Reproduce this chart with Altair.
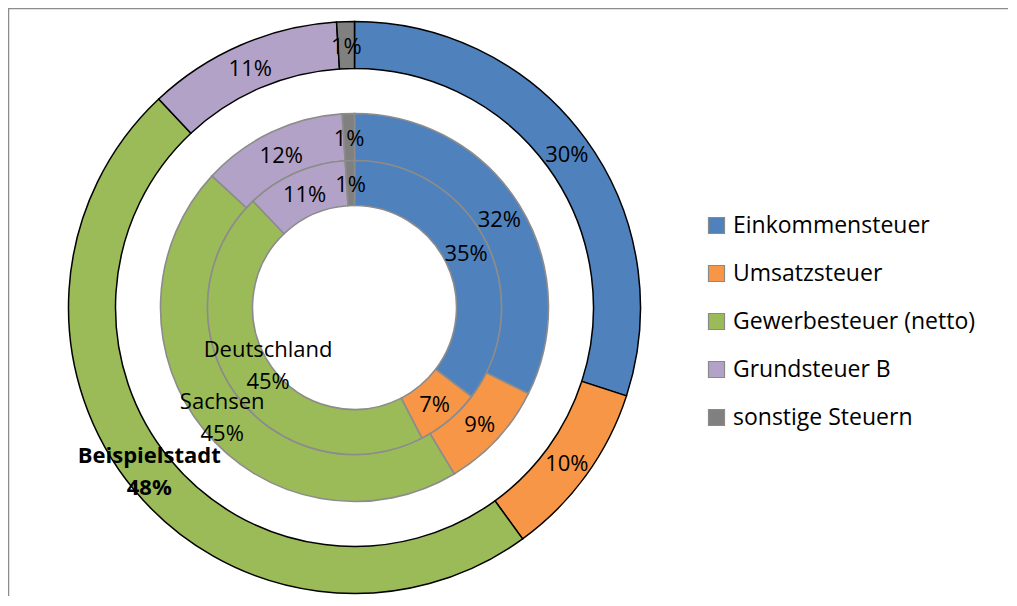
import math
import altair as alt
import pandas as pd

categories = ["Einkommensteuer", "Umsatzsteuer", "Gewerbesteuer (netto)", "Grundsteuer B", "sonstige Steuern"]
colors = ["#4F81BD", "#F79646", "#9BBB59", "#B3A2C7", "#808080"]
rings = ["Beispielstadt", "Sachsen", "Deutschland"]
beispielstadt = [30, 10, 48, 11, 1]
sachsen = [32, 9, 45, 12, 1]
deutschland = [35, 7, 45, 11, 1]

rows = []
for ring, vals in zip(rings, [beispielstadt, sachsen, deutschland]):
    for i, (c, v) in enumerate(zip(categories, vals)):
        rows.append({"ring": ring, "cat": c, "order": i, "value": v})
df = pd.DataFrame(rows)

W, H = 1000, 588
CX, CY = 346.5, 299.5
FONT = "Open Sans"
FS = 22

theta_scale = alt.Scale(domain=[0, 1], range=[0, 2 * math.pi])
color = alt.Color(
    "cat:N",
    sort=categories,
    scale=alt.Scale(domain=categories, range=colors),
    legend=alt.Legend(
        title=None, orient="none", legendX=697, legendY=206,
        symbolType="square", symbolSize=256, symbolStrokeColor="#8a8a8a",
        symbolStrokeWidth=1.2, labelFont=FONT, labelFontSize=23,
        labelColor="#000000", labelOffset=5, rowPadding=24, padding=0,
        labelLimit=400,
    ),
)

base = (
    alt.Chart(df)
    .transform_joinaggregate(total="sum(value)", groupby=["ring"])
    .transform_window(cum="sum(value)", groupby=["ring"], sort=[alt.SortField("order")], frame=[None, 0])
    .transform_calculate(
        start="(datum.cum - datum.value) / datum.total",
        end="datum.cum / datum.total",
        mid="(datum.cum - datum.value / 2) / datum.total",
        pct="datum.value + '%'",
        named="datum.ring + '\\n' + datum.value + '%'",
    )
)

radii = {"Beispielstadt": (286, 239), "Sachsen": (194, 147), "Deutschland": (147, 102)}
strokes = {"Beispielstadt": ("#000000", 1.5), "Sachsen": ("#8c8c8c", 1.6), "Deutschland": ("#8c8c8c", 1.6)}

layers = []
for ring in ["Sachsen", "Deutschland", "Beispielstadt"]:
    r1, r2 = radii[ring]
    sc, sw = strokes[ring]
    layers.append(
        base.transform_filter(alt.datum.ring == ring)
        .mark_arc(radius=r1, radius2=r2, stroke=sc, strokeWidth=sw)
        .encode(
            theta=alt.Theta("start:Q", scale=theta_scale),
            theta2="end:Q",
            color=color,
            x=alt.value(CX),
            y=alt.value(CY),
        )
    )

for ring in rings:
    r1, r2 = radii[ring]
    rm = (r1 + r2) / 2
    layers.append(
        base.transform_filter((alt.datum.ring == ring) & (alt.datum.cat != "Gewerbesteuer (netto)"))
        .mark_text(radius=rm, font=FONT, fontSize=FS, color="#000000", align="center", baseline="middle", dy=2)
        .encode(theta=alt.Theta("mid:Q", scale=theta_scale), text="pct:N", x=alt.value(CX), y=alt.value(CY))
    )

for ring, weight, dx, dy in [("Beispielstadt", "bold", -3, -19), ("Sachsen", "normal", 0, -13), ("Deutschland", "normal", 15, -30)]:
    r1, r2 = radii[ring]
    rm = (r1 + r2) / 2
    layers.append(
        base.transform_filter((alt.datum.ring == ring) & (alt.datum.cat == "Gewerbesteuer (netto)"))
        .mark_text(radius=rm, font=FONT, fontSize=FS, fontWeight=weight, color="#000000",
                   align="center", baseline="middle", lineBreak="\n", lineHeight=32, dx=dx, dy=dy)
        .encode(theta=alt.Theta("mid:Q", scale=theta_scale), text="named:N", x=alt.value(CX), y=alt.value(CY))
    )

frame_df = pd.DataFrame({"k": [0]})
frame_left = alt.Chart(frame_df).mark_rule(color="#8c8c8c", strokeWidth=1.5).encode(
    x=alt.value(0.5), y=alt.value(0), y2=alt.value(H)
)
frame_top = alt.Chart(frame_df).mark_rule(color="#8c8c8c", strokeWidth=1.5).encode(
    x=alt.value(0), x2=alt.value(W), y=alt.value(0.5)
)
layers += [frame_left, frame_top]

chart = (
    alt.layer(*layers)
    .properties(width=W, height=H, autosize=alt.AutoSizeParams(type="none"), padding=0)
    .configure_view(stroke=None)
    .configure(background="#ffffff")
)

chart.save("out.html", embed_options={"renderer": "svg", "actions": False})
